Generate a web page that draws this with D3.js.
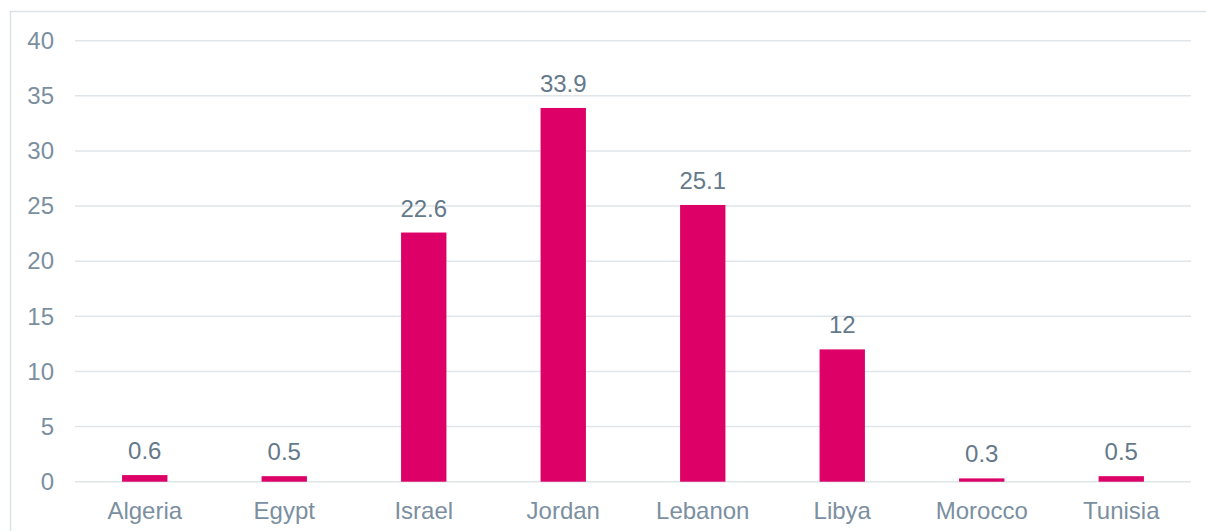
<!DOCTYPE html>
<html>
<head>
<meta charset="utf-8">
<script src="https://cdn.jsdelivr.net/npm/d3@7/dist/d3.min.js"></script>
<style>
  html, body { margin: 0; padding: 0; background: #ffffff; }
  svg { display: block; font-family: "Liberation Sans", Arial, sans-serif; }
</style>
</head>
<body>
<svg id="chart" width="1206" height="531"></svg>
<script>
// Share by country (%)
const countries = ["Algeria", "Egypt", "Israel", "Jordan", "Lebanon", "Libya", "Morocco", "Tunisia"];
const values = [0.6, 0.5, 22.6, 33.9, 25.1, 12, 0.3, 0.5];
const yTicks = [0, 5, 10, 15, 20, 25, 30, 35, 40];

const svg = d3.select("#chart");

// Chart frame
svg.append("rect")
  .attr("x", 10.5).attr("y", 11.5)
  .attr("width", 1210).attr("height", 540)
  .attr("fill", "none")
  .attr("stroke", "#dde2e6")
  .attr("stroke-width", 1.5);

const plot = { left: 75, right: 1191, top: 40.7, bottom: 481.7 };

const x = d3.scaleBand()
  .domain(countries)
  .range([plot.left, plot.right])
  .paddingInner(0.675)
  .paddingOuter(0.3375);

const y = d3.scaleLinear()
  .domain([0, 40])
  .range([plot.bottom, plot.top]);

// Horizontal gridlines
svg.append("g")
  .selectAll("line")
  .data(yTicks)
  .join("line")
  .attr("x1", plot.left).attr("x2", plot.right)
  .attr("y1", d => y(d)).attr("y2", d => y(d))
  .attr("stroke", "#e0e5e9")
  .attr("stroke-width", 1.5);

// Y axis labels
const yAxis = d3.axisLeft(y).tickValues(yTicks).tickSize(0).tickPadding(0);
svg.append("g")
  .attr("transform", `translate(54,0)`)
  .call(yAxis)
  .call(g => g.select(".domain").remove())
  .call(g => g.selectAll("text")
    .attr("fill", "#7b8fa0")
    .attr("font-size", 24)
    .attr("font-family", "Liberation Sans, Arial, sans-serif"));

// X axis labels
const xAxis = d3.axisBottom(x).tickSize(0).tickPadding(0);
svg.append("g")
  .attr("transform", `translate(0,${plot.bottom})`)
  .call(xAxis)
  .call(g => g.select(".domain").remove())
  .call(g => g.selectAll("text")
    .attr("dy", null)
    .attr("y", 37)
    .attr("fill", "#7b8fa0")
    .attr("font-size", 24)
    .attr("font-family", "Liberation Sans, Arial, sans-serif"));

// Bars
svg.append("g")
  .selectAll("rect")
  .data(countries)
  .join("rect")
  .attr("x", d => x(d))
  .attr("width", x.bandwidth())
  .attr("y", (d, i) => y(values[i]))
  .attr("height", (d, i) => y(0) - y(values[i]))
  .attr("fill", "#dc0067");

// Value labels
svg.append("g")
  .selectAll("text")
  .data(countries)
  .join("text")
  .attr("x", d => x(d) + x.bandwidth() / 2)
  .attr("y", (d, i) => y(values[i]) - 16)
  .attr("text-anchor", "middle")
  .attr("fill", "#64798a")
  .attr("font-size", 24)
  .text((d, i) => values[i]);
</script>
</body>
</html>
